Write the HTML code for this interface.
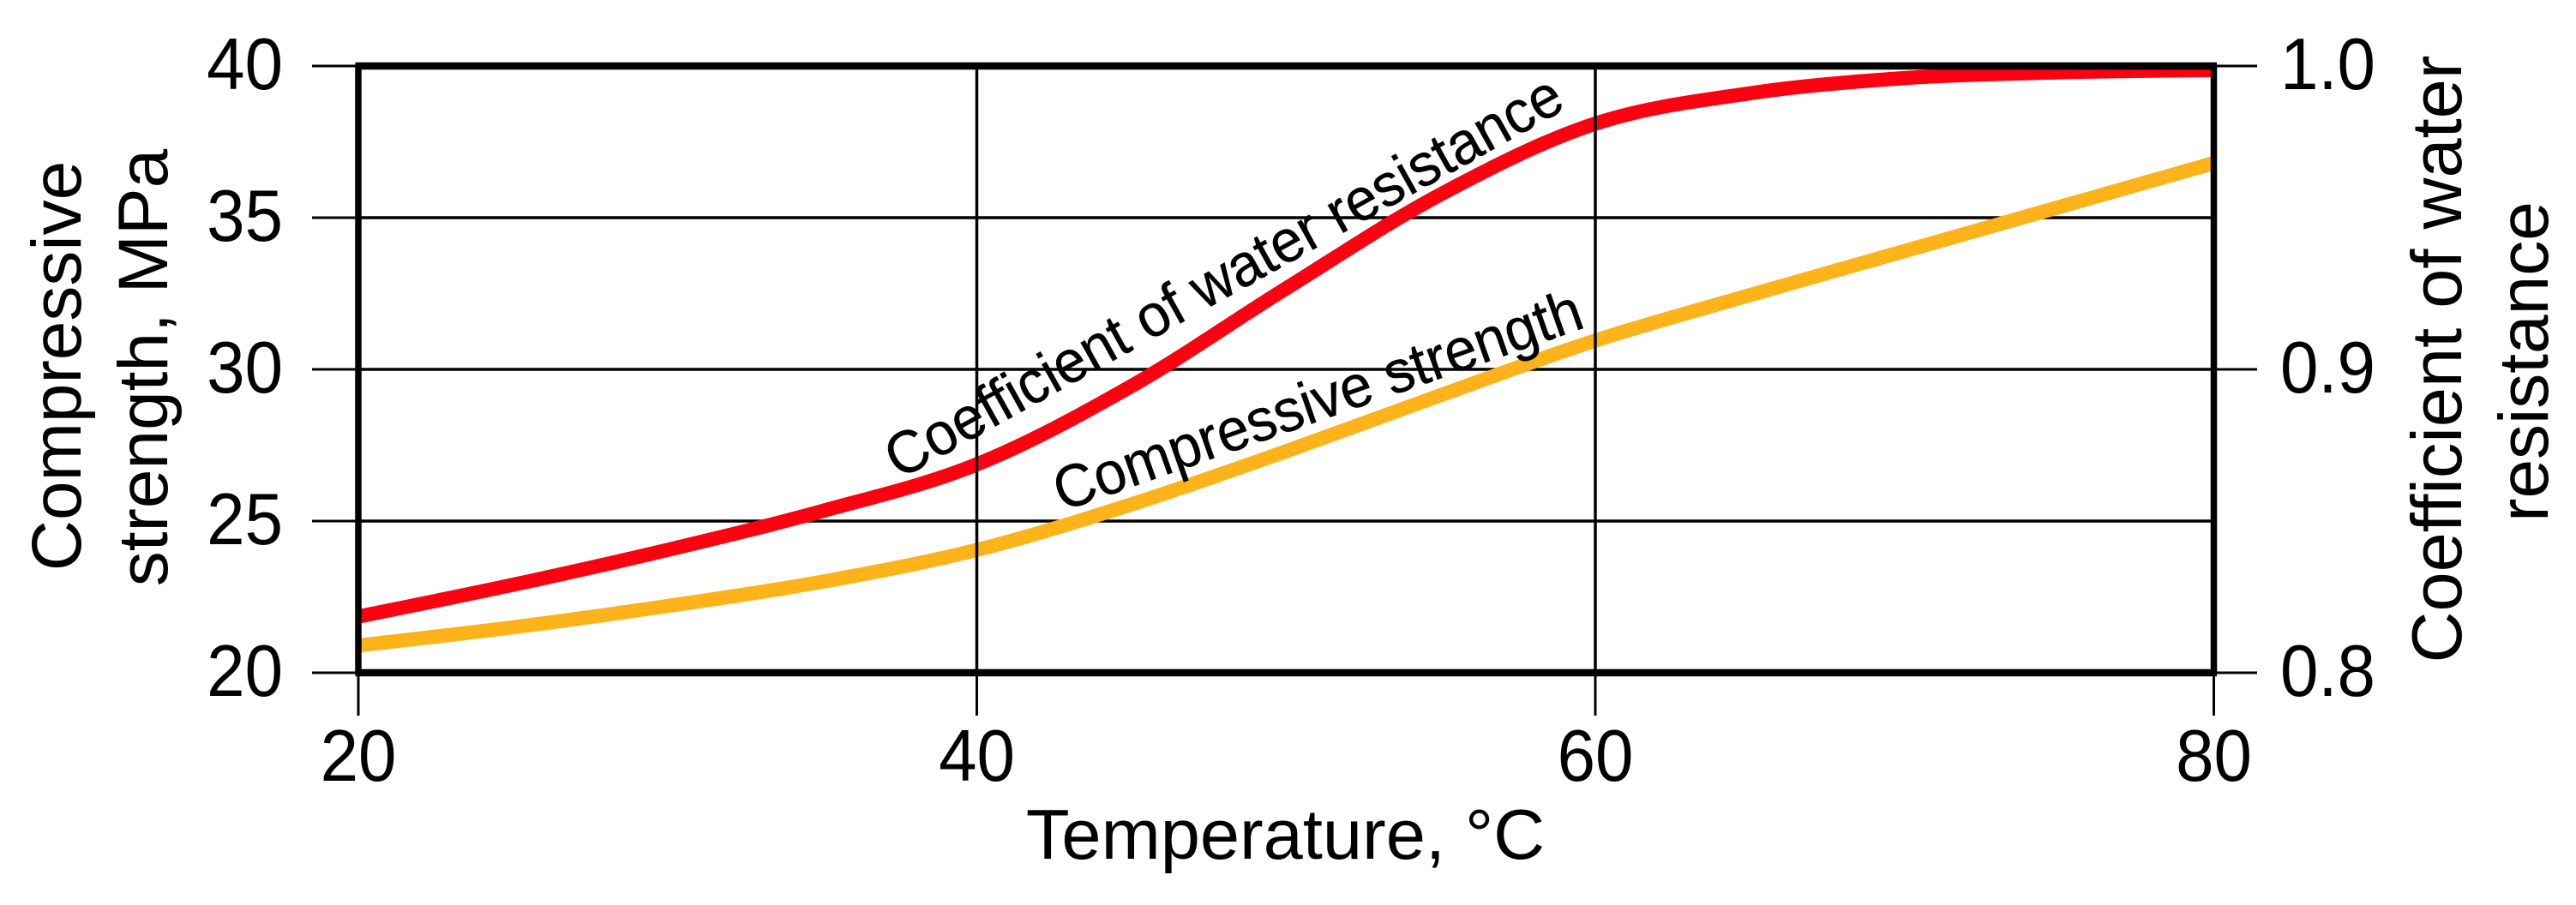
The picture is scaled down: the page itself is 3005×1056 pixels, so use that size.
<!DOCTYPE html>
<html lang="en">
<head>
<meta charset="utf-8">
<title>Compressive strength and coefficient of water resistance vs temperature</title>
<style>
html,body{margin:0;padding:0;background:#fff;}
svg{display:block;}
text{font-family:"Liberation Sans",Arial,sans-serif;fill:#000;}
</style>
</head>
<body>
<svg id="chart" xmlns="http://www.w3.org/2000/svg" width="3005" height="1056" viewBox="0 0 3005 1056"></svg>
<script>
const temperatureTicks = [20, 40, 60, 80];
const strengthTicks = [20, 25, 30, 35, 40];
const coefficientTicks = ["0.8", "0.9", "1.0"];
const coefficientGuides = [0.8, 0.9, 1.0];

const redTemperatures = [20, 25, 30, 35, 40, 45, 50, 55, 60, 65, 70, 75, 80];
const waterResistance = [0.8185, 0.829, 0.8405, 0.8533, 0.8687, 0.8945, 0.9267, 0.9577, 0.981, 0.991, 0.996, 0.9979, 0.9987];

const orangeTemperatures = [20, 25, 30, 35, 40, 45, 50, 55, 60, 65, 70, 75, 80];
const compressiveStrength = [20.9, 21.5, 22.2, 23.0, 24.05, 25.55, 27.3, 29.15, 30.95, 32.45, 33.9, 35.35, 36.8];

const NS = 'http://www.w3.org/2000/svg';
const svg = document.getElementById('chart');
const plot = {left: 418, right: 2582.5, top: 77, bottom: 785};
function xScale(t) { return plot.left + (t - 20) / 60 * (plot.right - plot.left); }
function yLeft(v) { return plot.bottom - (v - 20) / 20 * (plot.bottom - plot.top); }
function yRight(v) { return plot.bottom - (v - 0.8) / 0.2 * (plot.bottom - plot.top); }

function line(x1, y1, x2, y2, w, name) {
  const el = document.createElementNS(NS, 'line');
  el.setAttribute('x1', x1);
  el.setAttribute('y1', y1);
  el.setAttribute('x2', x2);
  el.setAttribute('y2', y2);
  el.setAttribute('stroke', '#000');
  el.setAttribute('stroke-width', w);
  
  
  svg.appendChild(el);
  return el;
}
function label(str, x, y, size, anchor, rot, sx, name) {
  const el = document.createElementNS(NS, 'text');
  el.textContent = str;
  el.setAttribute('font-size', size);
  el.setAttribute('text-anchor', anchor);
  el.setAttribute('transform', 'translate(' + x + ' ' + y + ') rotate(' + rot + ') scale(' + sx + ' 1)');
  
  
  svg.appendChild(el);
  return el;
}
function smoothPath(xs, ys) {
  let d = 'M' + xs[0].toFixed(2) + ' ' + ys[0].toFixed(2);
  for (let i = 0; i < xs.length - 1; i++) {
    const p0 = Math.max(i - 1, 0), p3 = Math.min(i + 2, xs.length - 1);
    const c1x = xs[i] + (xs[i + 1] - xs[p0]) / 6;
    const c1y = ys[i] + (ys[i + 1] - ys[p0]) / 6;
    const c2x = xs[i + 1] - (xs[p3] - xs[i]) / 6;
    const c2y = ys[i + 1] - (ys[p3] - ys[i]) / 6;
    d += ' C' + c1x.toFixed(2) + ' ' + c1y.toFixed(2) + ' ' + c2x.toFixed(2) + ' ' + c2y.toFixed(2) + ' ' + xs[i + 1].toFixed(2) + ' ' + ys[i + 1].toFixed(2);
  }
  return d;
}
function curve(ts, vals, yFn, color, name) {
  const el = document.createElementNS(NS, 'path');
  el.setAttribute('d', smoothPath(ts.map(xScale), vals.map(yFn)));
  el.setAttribute('fill', 'none');
  el.setAttribute('stroke', color);
  el.setAttribute('stroke-width', 16.5);
  
  
  svg.appendChild(el);
}

/* horizontal gridlines with left ticks */
strengthTicks.forEach(function (v) {
  const y = yLeft(v);
  line(364, y, plot.left, y, 3, 'left-tick-' + v);
  if (v !== 20 && v !== 40) line(plot.left, y, plot.right, y, 3.5, 'h-gridline-' + v);
  label(String(v), 330, y + 27, 85, 'end', 0, 0.94, 'left-tick-label-' + v);
});
/* right ticks */
coefficientGuides.forEach(function (v, i) {
  const y = yRight(v);
  line(plot.right, y, 2633, y, 3, 'right-tick-' + coefficientTicks[i]);
  label(coefficientTicks[i], 2771, y + 27, 85, 'end', 0, 0.94, 'right-tick-label-' + coefficientTicks[i]);
});

/* series */
curve(orangeTemperatures, compressiveStrength, yLeft, '#FFB31A', 'compressive-strength-line');
curve(redTemperatures, waterResistance, yRight, '#FF0010', 'water-resistance-line');

/* vertical gridlines and bottom ticks (drawn over the curves) */
temperatureTicks.forEach(function (t) {
  const x = xScale(t);
  if (t !== 20 && t !== 80) line(x, plot.top, x, plot.bottom, 3.5, 'v-gridline-' + t);
  line(x, plot.bottom, x, 835, 3, 'bottom-tick-' + t);
  label(String(t), x, 911, 85, 'middle', 0, 0.94, 'bottom-tick-label-' + t);
});

/* frame */
line(plot.left - 3.5, plot.top, plot.right + 3.5, plot.top, 8.5, 'frame-top');
line(plot.left - 3.5, plot.bottom, plot.right + 3.5, plot.bottom, 8.5, 'frame-bottom');
line(plot.left, plot.top, plot.left, plot.bottom, 7.5, 'frame-left');
line(plot.right, plot.top, plot.right, plot.bottom, 7.5, 'frame-right');

/* axis titles */
label('Temperature, °C', 1499.5, 1002, 83, 'middle', 0, 1, 'x-axis-title');
label('Compressive', 94, 427, 82, 'middle', -90, 1, 'left-axis-title-line-1');
label('strength, MPa', 195, 429, 82, 'middle', -90, 1, 'left-axis-title-line-2');
label('Coefficient of water', 2871, 419, 83, 'middle', -90, 1, 'right-axis-title-line-1');
label('resistance', 2972, 422, 82, 'middle', -90, 1, 'right-axis-title-line-2');

/* curve labels */
const waterLabel = label('Coefficient of water resistance', 1049, 560, 70, 'start', -29.1, 0.953, 'water-resistance-label');
waterLabel.setAttribute('stroke', '#000');
waterLabel.setAttribute('stroke-width', '0.4');
const strengthLabel = label('Compressive strength', 1239, 597, 70, 'start', -19.4, 0.953, 'compressive-strength-label');
strengthLabel.setAttribute('stroke', '#000');
strengthLabel.setAttribute('stroke-width', '0.4');
</script>
</body>
</html>
